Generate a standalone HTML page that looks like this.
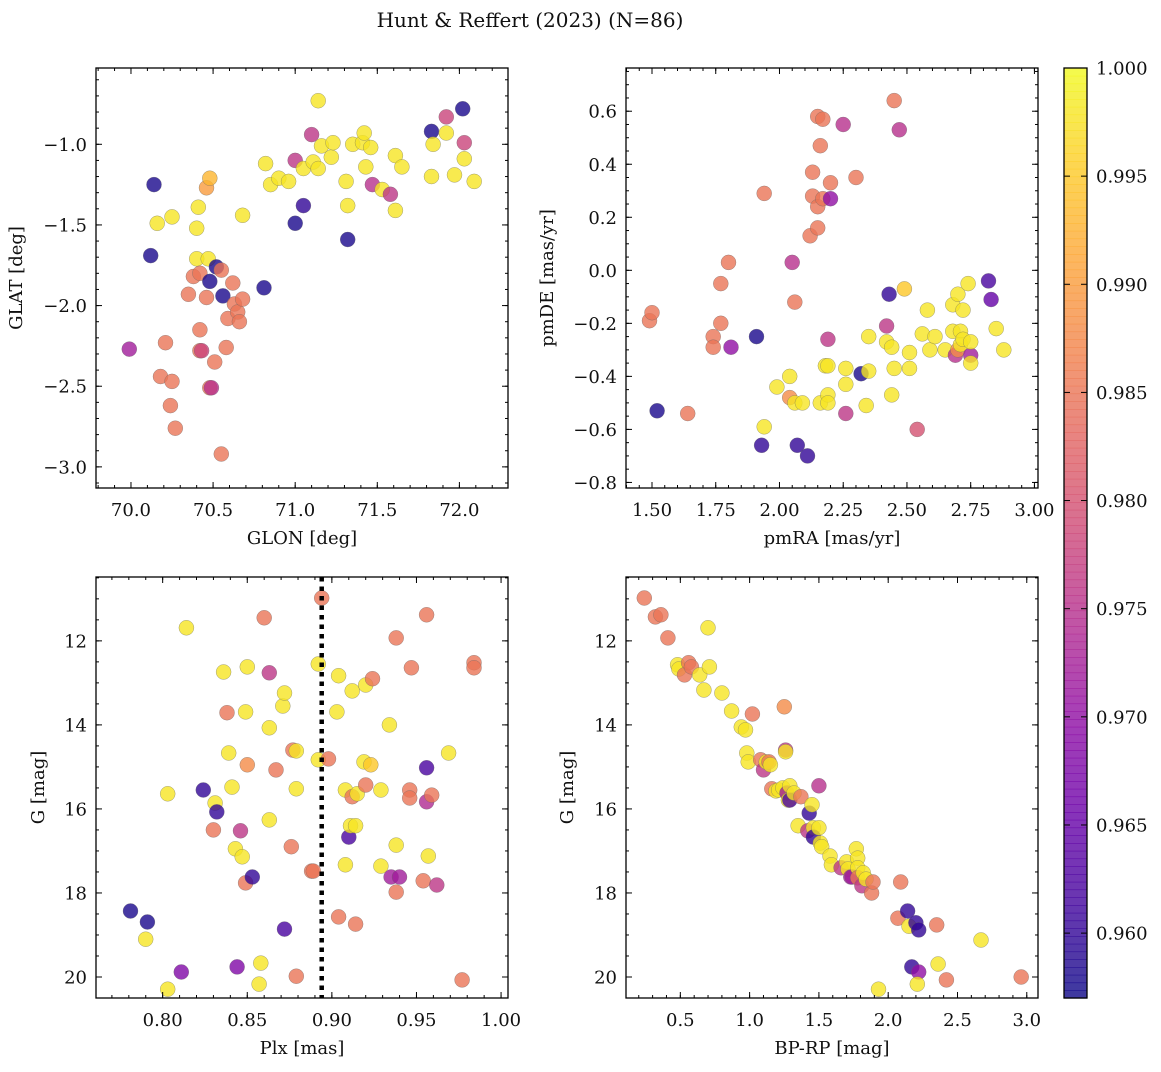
<!DOCTYPE html>
<html><head><meta charset="utf-8">
<style>
html,body{margin:0;padding:0;background:#fff;}
svg text{font-family:"DejaVu Serif","Liberation Serif",serif;fill:#111;}
</style></head>
<body>
<svg id="fig" width="1161" height="1067" viewBox="0 0 1161 1067" xmlns="http://www.w3.org/2000/svg">
<text x="530" y="27" font-size="20" text-anchor="middle">Hunt &amp; Reffert (2023) (N=86)</text>
</svg>
<script>
// ---- Panel 1: GLON vs GLAT ----
const p1Glon=[69.99,70.14,70.12,70.16,70.25,70.18,70.21,70.25,70.24,70.27,70.35,70.38,70.40,70.40,70.41,70.42,70.42,70.42,70.43,70.46,70.48,70.46,70.47,70.48,70.48,70.49,70.51,70.52,70.55,70.56,70.55,70.58,70.59,70.62,70.63,70.65,70.66,70.68,70.68,70.81,70.82,70.85,70.90,70.96,71.00,71.00,71.05,71.05,71.10,71.11,71.14,71.14,71.16,71.22,71.23,71.31,71.32,71.32,71.35,71.41,71.42,71.43,71.46,71.47,71.53,71.58,71.61,71.61,71.65,71.83,71.83,71.84,71.92,71.92,71.97,72.02,72.03,72.03,72.09];
const p1Glat=[-2.27,-1.25,-1.69,-1.49,-1.45,-2.44,-2.23,-2.47,-2.62,-2.76,-1.93,-1.82,-1.71,-1.52,-1.39,-1.80,-2.15,-2.28,-2.28,-1.27,-1.21,-1.95,-1.71,-1.85,-2.51,-2.51,-2.35,-1.76,-1.78,-1.94,-2.92,-2.26,-2.08,-1.86,-1.99,-2.04,-2.10,-1.96,-1.44,-1.89,-1.12,-1.25,-1.21,-1.23,-1.10,-1.49,-1.15,-1.38,-0.94,-1.11,-1.15,-0.73,-1.01,-1.08,-0.99,-1.23,-1.59,-1.38,-1.00,-0.99,-0.93,-1.14,-1.02,-1.25,-1.28,-1.31,-1.07,-1.41,-1.14,-0.92,-1.20,-1.00,-0.83,-0.93,-1.19,-0.78,-0.99,-1.09,-1.23];
const p1Prob=[0.972,0.958,0.958,0.998,0.998,0.985,0.985,0.985,0.985,0.985,0.985,0.985,0.998,0.998,0.998,0.985,0.985,0.985,0.978,0.990,0.993,0.985,0.998,0.958,0.985,0.975,0.985,0.958,0.985,0.958,0.985,0.985,0.985,0.985,0.985,0.985,0.985,0.985,0.998,0.958,0.998,0.998,0.998,0.998,0.976,0.958,0.998,0.960,0.976,0.998,0.998,0.998,0.998,0.998,0.998,0.998,0.958,0.998,0.998,0.998,0.998,0.998,0.998,0.975,0.998,0.976,0.998,0.998,0.998,0.958,0.998,0.998,0.978,0.998,0.998,0.958,0.978,0.998,0.998];

// ---- Panel 2: pmRA vs pmDE ----
const p2Pmra=[1.52,1.49,1.50,1.64,1.74,1.74,1.77,1.77,1.80,1.81,1.91,1.93,1.94,1.94,1.99,2.04,2.04,2.05,2.06,2.06,2.07,2.09,2.11,2.12,2.13,2.13,2.15,2.15,2.15,2.16,2.16,2.17,2.17,2.18,2.19,2.19,2.19,2.19,2.20,2.20,2.25,2.26,2.26,2.26,2.30,2.32,2.34,2.35,2.35,2.42,2.42,2.43,2.44,2.44,2.45,2.45,2.47,2.49,2.51,2.51,2.54,2.56,2.58,2.59,2.61,2.65,2.68,2.68,2.69,2.70,2.70,2.71,2.71,2.72,2.72,2.74,2.75,2.75,2.75,2.82,2.83,2.85,2.88];
const p2Pmde=[-0.53,-0.19,-0.16,-0.54,-0.25,-0.29,-0.20,-0.05,0.03,-0.29,-0.25,-0.66,0.29,-0.59,-0.44,-0.40,-0.48,0.03,-0.50,-0.12,-0.66,-0.50,-0.70,0.13,0.37,0.28,0.58,0.24,0.16,0.47,-0.50,0.57,0.27,-0.36,-0.47,-0.50,-0.26,-0.36,0.27,0.33,0.55,-0.54,-0.37,-0.43,0.35,-0.39,-0.51,-0.25,-0.38,-0.21,-0.27,-0.09,-0.29,-0.47,0.64,-0.37,0.53,-0.07,-0.31,-0.37,-0.60,-0.24,-0.15,-0.30,-0.25,-0.30,-0.23,-0.13,-0.32,-0.09,-0.30,-0.23,-0.28,-0.15,-0.26,-0.05,-0.32,-0.35,-0.27,-0.04,-0.11,-0.22,-0.30];
const p2Prob=[0.958,0.985,0.985,0.985,0.985,0.985,0.985,0.985,0.985,0.970,0.958,0.960,0.985,0.998,0.998,0.998,0.988,0.975,0.998,0.985,0.960,0.998,0.960,0.985,0.985,0.985,0.985,0.985,0.985,0.985,0.998,0.985,0.985,0.998,0.998,0.998,0.976,0.998,0.970,0.985,0.975,0.976,0.998,0.998,0.985,0.958,0.998,0.998,0.998,0.976,0.998,0.960,0.998,0.998,0.985,0.998,0.975,0.995,0.998,0.998,0.980,0.998,0.998,0.998,0.998,0.998,0.998,0.998,0.975,0.998,0.988,0.998,0.998,0.998,0.998,0.998,0.972,0.998,0.998,0.962,0.965,0.998,0.998];

// ---- Panel 3: Plx vs G ----
const p3Plx=[0.781,0.791,0.790,0.803,0.803,0.811,0.814,0.824,0.830,0.831,0.832,0.836,0.838,0.839,0.841,0.843,0.846,0.847,0.849,0.850,0.850,0.849,0.853,0.844,0.858,0.857,0.860,0.863,0.863,0.863,0.867,0.871,0.872,0.872,0.876,0.877,0.879,0.879,0.879,0.888,0.889,0.892,0.892,0.894,0.898,0.903,0.904,0.904,0.908,0.908,0.910,0.911,0.912,0.912,0.914,0.914,0.915,0.919,0.920,0.923,0.924,0.920,0.929,0.929,0.934,0.935,0.938,0.938,0.938,0.940,0.947,0.946,0.946,0.954,0.956,0.956,0.956,0.957,0.959,0.962,0.969,0.977,0.984,0.984];
const p3G=[18.43,18.69,19.10,20.29,15.64,19.88,11.69,15.55,16.50,15.86,16.07,12.74,13.71,14.67,15.48,16.95,16.52,17.14,17.76,14.95,12.62,13.69,17.62,19.76,19.67,20.17,11.45,12.76,14.07,16.26,15.07,13.55,13.24,18.86,16.90,14.60,19.98,14.62,15.52,17.48,17.48,12.55,14.83,10.98,14.81,13.69,12.83,18.57,15.55,17.33,16.67,16.40,15.71,13.19,16.40,18.74,15.64,14.88,13.05,14.95,12.90,15.43,15.55,17.36,14.00,17.62,17.98,16.86,11.93,17.62,12.64,15.55,15.74,17.71,15.83,15.02,11.38,17.12,15.67,17.81,14.67,20.07,12.52,12.64];
const p3Prob=[0.958,0.958,0.998,0.998,0.998,0.968,0.998,0.960,0.985,0.998,0.960,0.998,0.985,0.998,0.998,0.998,0.976,0.998,0.985,0.988,0.998,0.998,0.960,0.968,0.998,0.998,0.985,0.976,0.998,0.998,0.985,0.998,0.998,0.962,0.985,0.985,0.985,0.998,0.998,0.985,0.985,0.998,0.998,0.985,0.985,0.998,0.998,0.985,0.998,0.998,0.962,0.998,0.985,0.998,0.998,0.985,0.998,0.998,0.998,0.995,0.985,0.985,0.998,0.998,0.998,0.972,0.985,0.998,0.985,0.972,0.985,0.985,0.985,0.985,0.974,0.962,0.985,0.998,0.985,0.976,0.998,0.985,0.985,0.985];

// ---- Panel 4: BP-RP vs G ----
const p4Bprp=[0.24,0.32,0.36,0.41,0.48,0.49,0.53,0.56,0.58,0.64,0.67,0.70,0.71,0.80,0.87,0.94,0.97,1.02,0.98,0.99,1.08,1.10,1.12,1.14,1.15,1.16,1.19,1.21,1.24,1.25,1.26,1.26,1.27,1.28,1.29,1.29,1.32,1.35,1.37,1.42,1.43,1.45,1.46,1.46,1.50,1.50,1.51,1.52,1.58,1.59,1.66,1.70,1.71,1.73,1.74,1.77,1.78,1.78,1.78,1.81,1.82,1.84,1.88,1.89,2.09,2.07,2.14,2.15,2.20,2.22,2.17,2.22,2.21,2.35,2.36,2.42,2.67,2.96,1.93];
const p4G=[10.98,11.43,11.38,11.93,12.57,12.67,12.81,12.52,12.62,12.81,13.17,11.69,12.62,13.24,13.67,14.05,14.12,13.74,14.67,14.88,14.83,15.07,14.88,14.88,14.95,15.52,15.57,15.55,15.50,13.57,14.60,14.64,15.62,15.79,15.45,15.79,15.62,16.40,15.71,16.52,16.10,15.90,16.45,16.67,16.45,15.45,16.81,16.90,17.12,17.33,17.40,17.26,17.43,17.62,17.62,16.95,17.17,17.40,17.64,17.83,17.52,17.67,18.00,17.74,17.74,18.60,18.43,18.79,18.71,18.88,19.76,19.88,20.17,18.76,19.69,20.07,19.12,20.00,20.29];
const p4Prob=[0.985,0.985,0.985,0.985,0.998,0.998,0.985,0.985,0.985,0.998,0.998,0.998,0.998,0.998,0.998,0.998,0.998,0.985,0.998,0.998,0.985,0.976,0.998,0.985,0.998,0.985,0.998,0.998,0.998,0.988,0.976,0.998,0.972,0.998,0.998,0.962,0.998,0.998,0.985,0.976,0.960,0.998,0.998,0.960,0.998,0.975,0.998,0.998,0.998,0.998,0.976,0.998,0.998,0.972,0.972,0.998,0.998,0.998,0.985,0.976,0.998,0.998,0.985,0.985,0.985,0.985,0.960,0.998,0.960,0.960,0.960,0.970,0.998,0.985,0.998,0.985,0.998,0.985,0.998];

const cbTicks=[0.960,0.965,0.970,0.975,0.980,0.985,0.990,0.995,1.000];
const cMin=0.957, cMax=1.0;

const NS="http://www.w3.org/2000/svg";
const svg=document.getElementById('fig');
const stops=["#0d0887","#41049d","#6a00a8","#8f0da4","#b12a90","#cc4778","#e16462","#f2844b","#fca636","#fcce25","#f0f921"];
function hex(h){return [1,3,5].map(i=>parseInt(h.substr(i,2),16));}
function plasma(t){t=Math.max(0,Math.min(1,t));const f=t*10,i=Math.min(9,Math.floor(f)),u=f-i;const a=hex(stops[i]),b=hex(stops[i+1]);return 'rgb('+a.map((v,k)=>Math.round(v+(b[k]-v)*u)).join(',')+')';}
function colorOf(v){return plasma((v-cMin)/(cMax-cMin));}
function mk(tag,attrs,parent){const e=document.createElementNS(NS,tag);for(const k in attrs)e.setAttribute(k,attrs[k]);(parent||svg).appendChild(e);return e;}
function fmt(v,d){let s=v.toFixed(d);if(v<-1e-9)s='\u2212'+s.substring(1);return s;}

function panel(o){
  const g=mk('g',{});
  
  
  const sx=v=>o.L+(v-o.xlim[0])/(o.xlim[1]-o.xlim[0])*(o.R-o.L);
  const sy=o.invert?(v=>o.T+(v-o.ylim[0])/(o.ylim[1]-o.ylim[0])*(o.B-o.T)):(v=>o.B-(v-o.ylim[0])/(o.ylim[1]-o.ylim[0])*(o.B-o.T));
  o.xs.forEach((_,i)=>{
    const c=mk('circle',{cx:sx(o.xs[i]).toFixed(1),cy:sy(o.ys[i]).toFixed(1),r:7.5,fill:colorOf(o.cs[i]),'fill-opacity':0.8,stroke:'#666','stroke-width':0.5,'stroke-opacity':0.6},g);
    
    
  });
  if(o.vline!==undefined){
    const l=mk('line',{x1:sx(o.vline),x2:sx(o.vline),y1:o.T,y2:o.B,stroke:'#000','stroke-width':4.5,'stroke-dasharray':'4.5,5'},g);
    
    
  }
  const tg=mk('g',{stroke:'#000','stroke-width':1},g);
  for(let v=o.xminor[0];v<=o.xminor[1]+1e-9;v+=o.xminor[2]){const x=sx(v);if(x<o.L-0.5||x>o.R+0.5)continue;mk('line',{x1:x,x2:x,y1:o.B,y2:o.B-3},tg);mk('line',{x1:x,x2:x,y1:o.T,y2:o.T+3},tg);}
  for(let v=o.yminor[0];v<=o.yminor[1]+1e-9;v+=o.yminor[2]){const y=sy(v);if(y<o.T-0.5||y>o.B+0.5)continue;mk('line',{x1:o.L,x2:o.L+3,y1:y,y2:y},tg);mk('line',{x1:o.R,x2:o.R-3,y1:y,y2:y},tg);}
  o.xt.forEach(v=>{const x=sx(v);mk('line',{x1:x,x2:x,y1:o.B,y2:o.B-6},tg);mk('line',{x1:x,x2:x,y1:o.T,y2:o.T+6},tg);
    const t=mk('text',{x:x,y:o.B+28,'font-size':18,'text-anchor':'middle'},g);t.textContent=fmt(v,o.xd);
    });
  o.yt.forEach(v=>{const y=sy(v);mk('line',{x1:o.L,x2:o.L+6,y1:y,y2:y},tg);mk('line',{x1:o.R,x2:o.R-6,y1:y,y2:y},tg);
    const t=mk('text',{x:o.L-9,y:y+6.5,'font-size':18,'text-anchor':'end'},g);t.textContent=fmt(v,o.yd);
    });
  const fr=mk('rect',{x:o.L,y:o.T,width:o.R-o.L,height:o.B-o.T,fill:'none',stroke:'#000','stroke-width':1.3},g);
  
  const xl=mk('text',{x:(o.L+o.R)/2,y:o.B+56,'font-size':18,'text-anchor':'middle'},g);xl.textContent=o.xlabel;
  
  const cy=(o.T+o.B)/2;
  const yl=mk('text',{x:o.ylx,y:cy,'font-size':18,'text-anchor':'middle',transform:'rotate(-90 '+o.ylx+' '+cy+')'},g);yl.textContent=o.ylabel;
  
}

panel({name:'glon-glat-panel',L:96,R:508,T:68,B:488,xlim:[69.787,72.296],ylim:[-3.131,-0.527],xs:p1Glon,ys:p1Glat,cs:p1Prob,
  xt:[70.0,70.5,71.0,71.5,72.0],xd:1,yt:[-3.0,-2.5,-2.0,-1.5,-1.0],yd:1,xminor:[69.8,72.3,0.1],yminor:[-3.1,-0.5,0.1],
  xlabel:'GLON [deg]',ylabel:'GLAT [deg]',ylx:22});
panel({name:'pmra-pmde-panel',L:626,R:1038,T:68,B:488,xlim:[1.398,3.014],ylim:[-0.821,0.763],xs:p2Pmra,ys:p2Pmde,cs:p2Prob,
  xt:[1.5,1.75,2.0,2.25,2.5,2.75,3.0],xd:2,yt:[-0.8,-0.6,-0.4,-0.2,0.0,0.2,0.4,0.6],yd:1,xminor:[1.4,3.0,0.05],yminor:[-0.8,0.75,0.05],
  xlabel:'pmRA [mas/yr]',ylabel:'pmDE [mas/yr]',ylx:553});
panel({name:'plx-g-panel',L:96,R:508,T:577,B:998,xlim:[0.7606,1.0041],ylim:[10.48,20.5],invert:true,xs:p3Plx,ys:p3G,cs:p3Prob,vline:0.894,
  xt:[0.80,0.85,0.90,0.95,1.00],xd:2,yt:[12,14,16,18,20],yd:0,xminor:[0.77,1.0,0.01],yminor:[10.5,20.5,0.5],
  xlabel:'Plx [mas]',ylabel:'G [mag]',ylx:44});
panel({name:'color-magnitude-panel',L:626,R:1038,T:577,B:998,xlim:[0.108,3.081],ylim:[10.48,20.5],invert:true,xs:p4Bprp,ys:p4G,cs:p4Prob,
  xt:[0.5,1.0,1.5,2.0,2.5,3.0],xd:1,yt:[12,14,16,18,20],yd:0,xminor:[0.2,3.0,0.1],yminor:[10.5,20.5,0.5],
  xlabel:'BP-RP [mag]',ylabel:'G [mag]',ylx:573});

(function(){
  const L=1064,R=1087,T=68,B=998;
  const g=mk('g',{});
  
  
  const n=120;
  for(let i=0;i<n;i++){
    const v0=cMin+(cMax-cMin)*i/n;
    const y=B-(i+1)*(B-T)/n;
    mk('rect',{x:L,y:y.toFixed(2),width:R-L,height:((B-T)/n+0.6).toFixed(2),fill:colorOf(v0+(cMax-cMin)/(2*n)),'fill-opacity':0.8},g);
  }
  const sy=v=>B-(v-cMin)/(cMax-cMin)*(B-T);
  cbTicks.forEach(v=>{const y=sy(v);mk('line',{x1:R,x2:R-6,y1:y,y2:y,stroke:'#000','stroke-width':1},g);mk('line',{x1:L,x2:L+6,y1:y,y2:y,stroke:'#000','stroke-width':1},g);
    const t=mk('text',{x:R+9,y:y+6.5,'font-size':18},g);t.textContent=v.toFixed(3);
    });
  mk('rect',{x:L,y:T,width:R-L,height:B-T,fill:'none',stroke:'#000','stroke-width':1.3},g);
})();
</script>
</body></html>
